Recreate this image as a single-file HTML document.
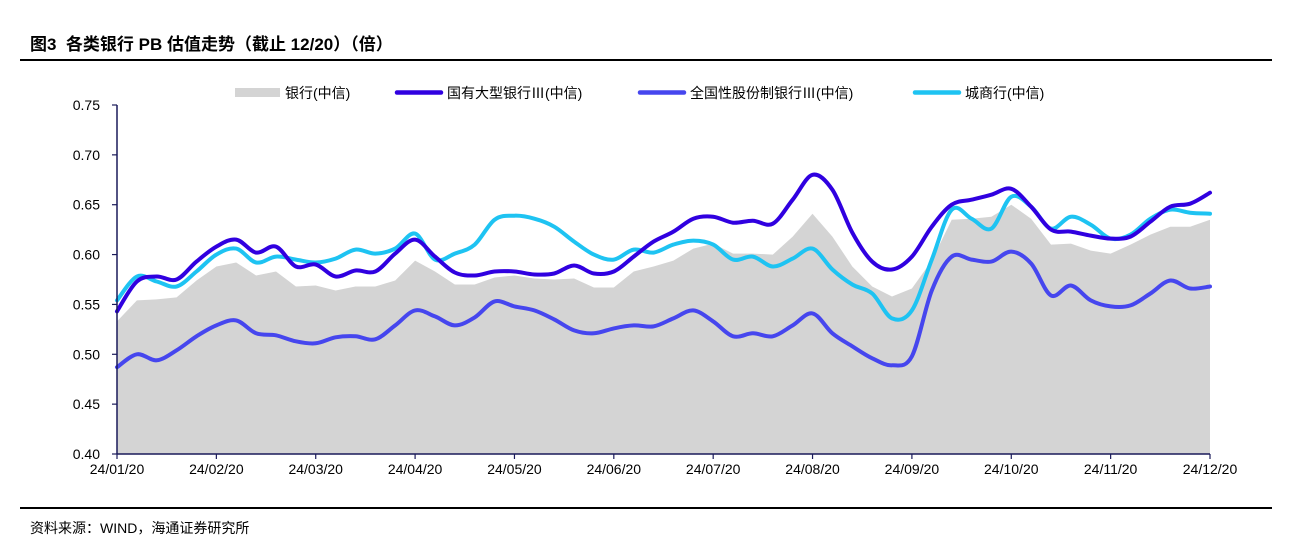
<!DOCTYPE html>
<html><head><meta charset="utf-8">
<style>
body{margin:0;background:#fff;width:1294px;height:557px;overflow:hidden;font-family:"Liberation Sans","Noto Sans CJK SC",sans-serif;}
.title{position:absolute;left:30px;top:30px;font-size:17px;font-weight:bold;color:#000;}
.rule{position:absolute;left:20px;width:1252px;background:#000;}
.source{position:absolute;left:30px;top:518px;font-size:14px;color:#000;}
</style></head>
<body>
<div class="title">图3&nbsp; 各类银行 PB 估值走势（截止 12/20）（倍）</div>
<div class="rule" style="top:59px;height:2px"></div>
<div class="rule" style="top:507px;height:1.5px"></div>
<div class="source">资料来源：WIND，海通证券研究所</div>
<svg id="chart" width="1294" height="557" style="position:absolute;left:0;top:0"></svg>
<script>
const xLabels=["24/01/20","24/02/20","24/03/20","24/04/20","24/05/20","24/06/20","24/07/20","24/08/20","24/09/20","24/10/20","24/11/20","24/12/20"];
const yTicks=[0.40,0.45,0.50,0.55,0.60,0.65,0.70,0.75];
const bankAll=[.533,.554,.555,.557,.574,.588,.592,.579,.583,.568,.569,.564,.568,.568,.574,.594,.583,.570,.570,.577,.579,.576,.575,.576,.567,.567,.583,.588,.594,.606,.611,.601,.601,.600,.618,.641,.618,.588,.568,.558,.566,.594,.635,.636,.638,.650,.636,.610,.611,.604,.601,.610,.620,.628,.628,.635];
const stateOwned=[.543,.573,.578,.575,.593,.608,.615,.602,.608,.588,.590,.578,.584,.583,.601,.615,.598,.582,.579,.583,.583,.580,.581,.589,.581,.583,.598,.613,.623,.636,.638,.632,.634,.631,.655,.680,.665,.622,.593,.585,.598,.628,.650,.655,.660,.666,.648,.625,.623,.619,.616,.618,.633,.648,.651,.662];
const jointStock=[.487,.500,.494,.504,.518,.529,.534,.521,.519,.513,.511,.517,.518,.515,.529,.544,.538,.529,.537,.553,.548,.544,.535,.524,.521,.526,.529,.528,.536,.544,.533,.518,.521,.518,.529,.541,.521,.508,.496,.489,.498,.564,.598,.595,.593,.603,.591,.559,.569,.554,.548,.549,.561,.574,.566,.568];
const cityBank=[.554,.578,.573,.568,.583,.600,.606,.592,.598,.595,.592,.596,.605,.601,.606,.621,.595,.601,.610,.635,.639,.636,.628,.613,.600,.595,.605,.602,.610,.614,.610,.595,.598,.588,.596,.606,.585,.570,.561,.536,.544,.595,.645,.636,.626,.658,.648,.626,.638,.630,.616,.620,.636,.645,.642,.641];

const svg=document.getElementById('chart');
const NS='http://www.w3.org/2000/svg';
const X0=117,X1=1210,Y0=454,Y1=105,VMIN=0.40,VMAX=0.75;
const n=bankAll.length;
const xs=i=>X0+(X1-X0)*i/(n-1);
const ys=v=>Y0-(v-VMIN)/(VMAX-VMIN)*(Y0-Y1);
function mk(tag,attrs){const e=document.createElementNS(NS,tag);for(const k in attrs)e.setAttribute(k,attrs[k]);svg.appendChild(e);return e;}

let d=`M${X0},${Y0}`;
bankAll.forEach((v,i)=>{d+=` L${xs(i).toFixed(1)},${ys(v).toFixed(1)}`;});
d+=` L${X1},${Y0} Z`;
const area=mk('path',{d:d,fill:'#d4d4d4'});



function smooth(arr){
  const p=arr.map((v,i)=>[xs(i),ys(v)]);
  let s=`M${p[0][0].toFixed(1)},${p[0][1].toFixed(1)}`;
  for(let i=0;i<p.length-1;i++){
    const p0=p[Math.max(0,i-1)],p1=p[i],p2=p[i+1],p3=p[Math.min(p.length-1,i+2)];
    const c1x=p1[0]+(p2[0]-p0[0])/6,c1y=p1[1]+(p2[1]-p0[1])/6;
    const c2x=p2[0]-(p3[0]-p1[0])/6,c2y=p2[1]-(p3[1]-p1[1])/6;
    s+=` C${c1x.toFixed(1)},${c1y.toFixed(1)} ${c2x.toFixed(1)},${c2y.toFixed(1)} ${p2[0].toFixed(1)},${p2[1].toFixed(1)}`;
  }
  return s;
}
const l1=mk('path',{d:smooth(jointStock),fill:'none',stroke:'#4646ee','stroke-width':4,'stroke-linejoin':'round','stroke-linecap':'round'});


const l2=mk('path',{d:smooth(cityBank),fill:'none',stroke:'#1ec3f2','stroke-width':4,'stroke-linejoin':'round','stroke-linecap':'round'});


const l3=mk('path',{d:smooth(stateOwned),fill:'none',stroke:'#3000e0','stroke-width':4,'stroke-linejoin':'round','stroke-linecap':'round'});


svg.appendChild(l2);svg.appendChild(l3);

const ax=mk('line',{x1:X0,y1:Y1,x2:X0,y2:Y0,stroke:'#1a1a5a','stroke-width':1.5});


const bx=mk('line',{x1:X0,y1:Y0,x2:X1,y2:Y0,stroke:'#1a1a5a','stroke-width':1.5});


yTicks.forEach(v=>{
  mk('line',{x1:X0-5,y1:ys(v),x2:X0,y2:ys(v),stroke:'#1a1a5a','stroke-width':1.2});
  const t=mk('text',{x:X0-17,y:ys(v)+5,'text-anchor':'end','font-size':14,fill:'#000','font-family':'Liberation Sans, sans-serif'});
  t.textContent=v.toFixed(2);
  
  
});
xLabels.forEach((lab,i)=>{
  const x=X0+(X1-X0)*i/(xLabels.length-1);
  mk('line',{x1:x,y1:Y0,x2:x,y2:Y0+5,stroke:'#1a1a5a','stroke-width':1.2});
  const t=mk('text',{x:x,y:Y0+20,'text-anchor':'middle','font-size':14,fill:'#000','font-family':'Liberation Sans, sans-serif'});
  t.textContent=lab;
  
  
});

const leg=[["银行(中信)",'area','#d4d4d4',235],["国有大型银行Ⅲ(中信)",'line','#3000e0',397],["全国性股份制银行Ⅲ(中信)",'line','#4646ee',640],["城商行(中信)",'line','#1ec3f2',915]];
leg.forEach(([name,type,col,x])=>{
  const g=document.createElementNS(NS,'g');svg.appendChild(g);
  
  
  let sym;
  if(type==='area'){sym=document.createElementNS(NS,'rect');sym.setAttribute('x',x);sym.setAttribute('y',88);sym.setAttribute('width',45);sym.setAttribute('height',9);sym.setAttribute('fill',col);}
  else{sym=document.createElementNS(NS,'line');sym.setAttribute('x1',x);sym.setAttribute('y1',92.5);sym.setAttribute('x2',x+44);sym.setAttribute('y2',92.5);sym.setAttribute('stroke',col);sym.setAttribute('stroke-width',4.5);sym.setAttribute('stroke-linecap','round');}
  g.appendChild(sym);
  const t=document.createElementNS(NS,'text');
  t.setAttribute('x',x+50);t.setAttribute('y',98);t.setAttribute('font-size',14);t.setAttribute('fill','#000');
  t.setAttribute('font-family','Liberation Sans, Noto Sans CJK SC, sans-serif');
  t.textContent=name;g.appendChild(t);
});
</script>
</body></html>
